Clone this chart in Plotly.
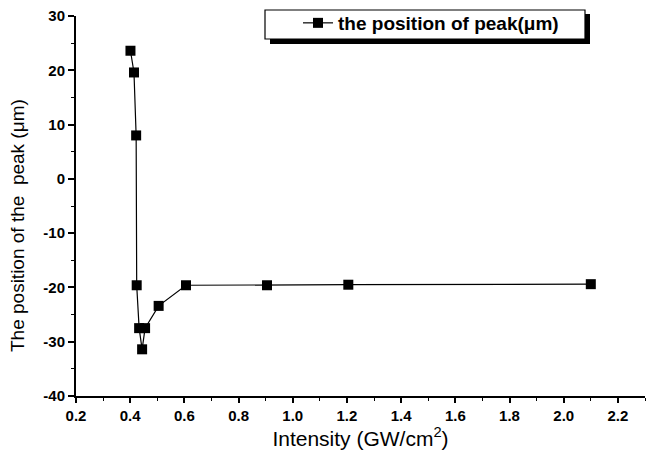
import plotly.graph_objects as go

# Data
intensity = [0.401, 0.414, 0.422, 0.424, 0.433, 0.444, 0.455, 0.505, 0.606, 0.905, 1.205, 2.10]
peak_pos = [23.6, 19.6, 8.0, -19.6, -27.5, -31.4, -27.5, -23.4, -19.6, -19.6, -19.5, -19.4]

x_ticks = [0.2, 0.4, 0.6, 0.8, 1.0, 1.2, 1.4, 1.6, 1.8, 2.0, 2.2]
y_ticks = [30, 20, 10, 0, -10, -20, -30, -40]

x_title = "Intensity (GW/cm<sup>2</sup>)"
y_title = "The position of the\u00a0 peak (\u03bcm)"

W, H = 646, 454
ML, MR, MT, MB = 76, 1, 16, 58
PW, PH = W - ML - MR, H - MT - MB

def px2paper(px, py):
    return (px - ML) / PW, (H - MB - py) / PH

fig = go.Figure()
fig.add_trace(go.Scatter(
    x=intensity, y=peak_pos, mode="lines+markers",
    name="the position of peak(\u03bcm)",
    line=dict(color="black", width=1.2),
    marker=dict(symbol="square", size=10, color="black"),
))

font_family = "Liberation Sans, Arial, sans-serif"

# legend frame with drop shadow
sx0, sy0 = px2paper(270, 44)
sx1, sy1 = px2paper(590, 14)
fig.add_shape(type="rect", xref="paper", yref="paper",
              x0=sx0, y0=sy0, x1=sx1, y1=sy1,
              fillcolor="black", line=dict(width=0), layer="above")
bx0, by0 = px2paper(265, 39)
bx1, by1 = px2paper(585, 10)
fig.add_shape(type="rect", xref="paper", yref="paper",
              x0=bx0, y0=by0, x1=bx1, y1=by1,
              fillcolor="white", line=dict(color="black", width=1.2), layer="above")

lx, ly = px2paper(298, 23)

# y-axis title as rotated annotation (positioned like the reference)
tx, ty = px2paper(18, 226)
fig.add_annotation(text=y_title, xref="paper", yref="paper", x=tx, y=ty,
                   textangle=-90, showarrow=False, xanchor="center", yanchor="middle",
                   font=dict(size=19, family=font_family, color="black"))

fig.update_layout(
    width=W, height=H,
    margin=dict(l=ML, r=MR, t=MT, b=MB),
    paper_bgcolor="white", plot_bgcolor="white",
    font=dict(family=font_family, color="black"),
    showlegend=True,
    legend=dict(x=lx, y=ly, xanchor="left", yanchor="middle",
                bgcolor="rgba(0,0,0,0)", borderwidth=0,
                font=dict(size=19, family=font_family, weight="bold", color="black")),
    xaxis=dict(
        range=[0.2, 2.3], tickvals=x_ticks,
        ticktext=[f"{v:.1f}" for v in x_ticks],
        showgrid=False, zeroline=False,
        showline=True, linecolor="black", linewidth=2,
        ticks="outside", ticklen=5, tickwidth=1.5, tickcolor="black",
        minor=dict(dtick=0.1, ticks="outside", ticklen=3, tickwidth=1, tickcolor="black", showgrid=False),
        tickfont=dict(size=15, family=font_family, weight="bold", color="black"),
        title=dict(text=x_title,
                   font=dict(size=21, family=font_family, color="black"), standoff=8),
    ),
    yaxis=dict(
        range=[-40, 30], tickvals=y_ticks,
        ticktext=[str(v) for v in y_ticks],
        showgrid=False, zeroline=False,
        showline=True, linecolor="black", linewidth=2,
        ticks="outside", ticklen=6, tickwidth=1.5, tickcolor="black",
        minor=dict(dtick=5, ticks="outside", ticklen=3, tickwidth=1, tickcolor="black", showgrid=False),
        tickfont=dict(size=15, family=font_family, weight="bold", color="black"),
    ),
)

fig.write_html("out.html")
